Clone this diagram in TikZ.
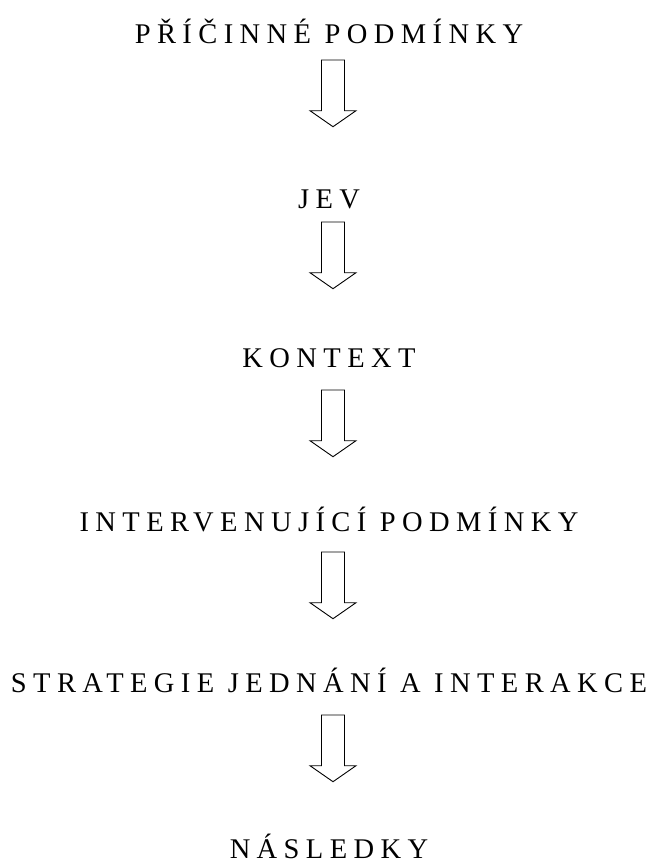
\documentclass[tikz,border=0pt]{standalone}
\usepackage{fontspec}
\setmainfont{Liberation Serif}[LetterSpace=22.5]
\begin{document}
\begin{tikzpicture}[x=1pt,y=-1pt,
  label text/.style={anchor=base, inner sep=0pt, font=\fontsize{28.5}{31}\selectfont},
  hollow arrow/.pic={
    \draw[line width=0.9pt, line join=miter, fill=white]
      (-11.5,0) -- (11.5,0) -- (11.5,50.7) -- (23,50.7) -- (0,66.7)
      -- (-23,50.7) -- (-11.5,50.7) -- cycle;
  }]
  \useasboundingbox[fill=white] (0,0) rectangle (656,863);

  % stage labels, top to bottom
  \node[label text] (s1) at (329,43)  {PŘÍČINNÉ PODMÍNKY};
  \node[label text] (s2) at (329,208) {JEV};
  \node[label text] (s3) at (329,367) {KONTEXT};
  \node[label text] (s4) at (329,531) {INTERVENUJÍCÍ PODMÍNKY};
  \node[label text] (s5) at (329,692) {STRATEGIE JEDNÁNÍ A INTERAKCE};
  \node[label text] (s6) at (329,858) {NÁSLEDKY};

  % hollow block arrows between the stages
  \pic at (333,60)  {hollow arrow};
  \pic at (333,222) {hollow arrow};
  \pic at (333,390) {hollow arrow};
  \pic at (333,552) {hollow arrow};
  \pic at (333,715) {hollow arrow};
\end{tikzpicture}
\end{document}
